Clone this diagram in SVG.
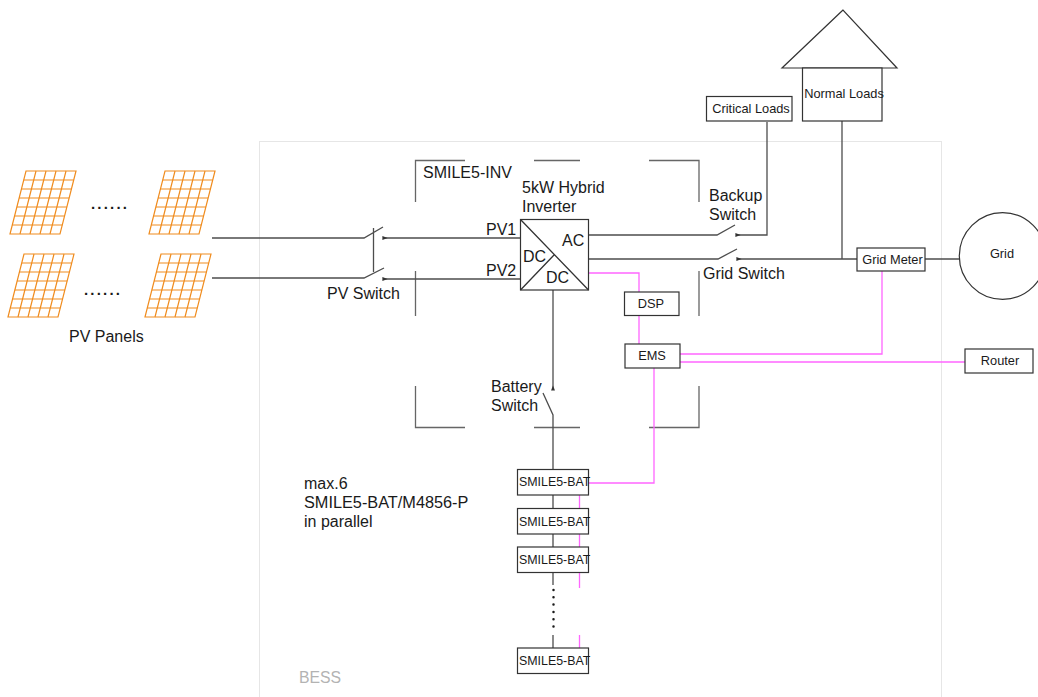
<svg xmlns="http://www.w3.org/2000/svg" width="1038" height="697" viewBox="0 0 1038 697">
<style>
text{font-family:"Liberation Sans",Arial,sans-serif;fill:#1a1a1a}
.t14{font-size:16px}.t12{font-size:12.4px}.t11{font-size:12.800px}
.c{text-anchor:middle}
.box{fill:#fff;stroke:#333;stroke-width:1.2}
.w{fill:none;stroke:#4d4d4d;stroke-width:1.3}
.p{fill:none;stroke:#ff66ff;stroke-width:1.3}
.f{fill:none;stroke:#666;stroke-width:1.3}
.d{font-size:15px;letter-spacing:2.2px;font-weight:bold}
</style>
<defs>
<g id="panel" fill="none" stroke="#f08c1e" stroke-width="1.2">
<path d="M16 0H66L50 63H0Z"/>
<path d="M13.7 9H63.7M11.4 18H61.4M9.1 27H59.1M6.9 36H56.9M4.6 45H54.6M2.3 54H52.3"/>
<path d="M26 0L10 63M36 0L20 63M46 0L30 63M56 0L40 63"/>
</g>
<marker id="a" markerWidth="5" markerHeight="4" refX="2" refY="2" orient="auto"><path d="M0 2L4 0.5V3.5Z" fill="#333"/></marker>
</defs>
<rect x="259.500" y="141.500" width="682" height="600" fill="none" stroke="#e6e6e6" stroke-width="1"/>
<text x="299" y="683" font-size="15.800" style="fill:#b3b3b3">BESS</text>
<g id="frame" class="f"><path class="f" d="M415.500 202V160.500H465M534 160.500H580M649 160.500H699V202M415.500 271V316M699 271V316M415.500 386V427.500H465M534 427.500H580M649 427.500H699V386"/></g>
<g id="panels">
<use href="#panel" x="10" y="171"/><use href="#panel" x="149" y="171"/>
<use href="#panel" x="8" y="254"/><use href="#panel" x="145" y="254"/>
<text class="d" x="91" y="209">......</text><text class="d" x="84" y="295">......</text>
<text class="t14" x="69" y="342">PV Panels</text>
</g>
<g id="connectors">
<path class="w" d="M212 238H364L383 227M212 278H364L384 268M373.500 228V272"/>
<path class="w" d="M520 238H385" marker-end="url(#a)"/>
<path class="w" d="M520 279H385" marker-end="url(#a)"/>
<path class="w" d="M589 235H717L735 225"/>
<path class="w" d="M767 122V235H738" marker-end="url(#a)"/>
<path class="w" d="M589 259H718L737 249"/>
<path class="w" d="M857 259H739" marker-end="url(#a)"/>
<path class="w" d="M842 121V259M925 259H960"/>
<path class="w" d="M553 290V388" marker-end="url(#a)"/>
<path class="w" d="M543 393L553 415V469M553 495V508M553 534V547M553 572V585M553 635V648"/>
<path d="M553.500 590V630" fill="none" stroke="#1a1a1a" stroke-width="2.500" stroke-linecap="round" stroke-dasharray="0 7.300"/>
<path class="p" d="M589 273H639V292M639 316V344M680 354H882V271M680 362H965M654 368V483H589M579.500 495V508M579.500 534V547M579.500 572V588M579.500 635V648"/>
</g>
<g id="inverter">
<rect class="box" x="520.500" y="219.500" width="68" height="70.500"/>
<path class="w" style="stroke:#333" d="M520.500 219.500L588.500 290M520.500 290L554 255"/>
<text class="t14" x="423" y="178">SMILE5-INV</text>
<text class="t14" x="522" y="192.500">5kW Hybrid</text><text class="t14" x="522" y="211.500">Inverter</text>
<text class="t14" x="486" y="234.500">PV1</text><text class="t14" x="486" y="275.500">PV2</text>
<text class="t14" x="562" y="245.500">AC</text><text class="t14" x="523" y="261.500">DC</text><text class="t14" x="546" y="282.500">DC</text>
</g>
<g id="switch-labels">
<text class="t14" x="327" y="298.500">PV Switch</text>
<text class="t14" x="709" y="200.500">Backup</text><text class="t14" x="709" y="219.500">Switch</text>
<text class="t14" x="703" y="278.500">Grid Switch</text>
<text class="t14" x="491" y="391.500">Battery</text><text class="t14" x="491" y="410.500">Switch</text>
</g>
<text class="t14" x="304" y="488.500">max.6</text><text class="t14" x="304" y="507.500" style="font-size:16.300px">SMILE5-BAT/M4856-P</text><text class="t14" x="304" y="526.500">in parallel</text>
<g id="critical-loads"><rect class="box" x="706.500" y="96.500" width="85.500" height="24.500"/><text class="t11 c" x="751" y="113">Critical Loads</text></g>
<g id="normal-loads"><path class="box" d="M843 10L782 68H897Z"/><rect class="box" x="802.500" y="68" width="79.500" height="53"/><text class="t11 c" x="844" y="98">Normal Loads</text></g>
<g id="grid-meter"><rect class="box" x="857" y="248" width="68" height="23"/><text class="t11 c" x="892.500" y="264">Grid Meter</text></g>
<g id="grid"><circle cx="1002.600" cy="256" r="43.300" fill="#fff" stroke="#333" stroke-width="1.200"/><text class="t11 c" x="1002" y="258">Grid</text></g>
<g id="router"><rect class="box" x="965" y="349" width="68" height="24"/><text class="t11 c" x="1000" y="365">Router</text></g>
<g id="dsp"><rect class="box" x="624.500" y="292" width="54.500" height="23.500"/><text class="t11 c" x="651" y="308">DSP</text></g>
<g id="ems"><rect class="box" x="625" y="344" width="55" height="24"/><text class="t11 c" x="652" y="360">EMS</text></g>
<g id="bat1"><rect class="box" x="517.500" y="469.500" width="71" height="25.500"/><text class="t12" x="519" y="486">SMILE5-BAT</text></g>
<g id="bat2"><rect class="box" x="517.500" y="508.500" width="71" height="25.500"/><text class="t12" x="519" y="526">SMILE5-BAT</text></g>
<g id="bat3"><rect class="box" x="517.500" y="547" width="71" height="25.500"/><text class="t12" x="519" y="564">SMILE5-BAT</text></g>
<g id="bat4"><rect class="box" x="517.500" y="648" width="71" height="25.500"/><text class="t12" x="519" y="665">SMILE5-BAT</text></g>
</svg>
